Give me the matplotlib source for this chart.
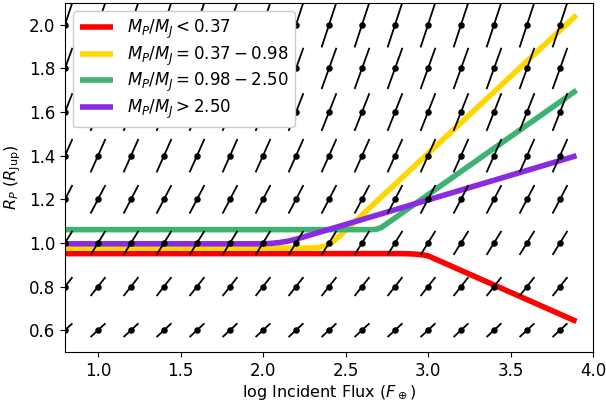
import numpy as np
import matplotlib
matplotlib.use("Agg")
import matplotlib.pyplot as plt
from matplotlib.collections import LineCollection

# ---- slope field grid ----
field_x = [0.8, 1.0, 1.2, 1.4, 1.6, 1.8, 2.0, 2.2, 2.4, 2.6, 2.8, 3.0, 3.2, 3.4, 3.6, 3.8]
field_y = [0.6, 0.8, 1.0, 1.2, 1.4, 1.6, 1.8, 2.0]
field_slope = [0.70, 0.96, 1.22, 1.45, 1.70, 1.92, 2.10, 2.30]
half_dx = 0.045

# ---- curves ----
red_x = [0.8, 2.85, 2.92, 2.97, 3.0, 3.9]
red_y = [0.951, 0.951, 0.949, 0.945, 0.941, 0.640]

yellow_x = [0.8, 2.28, 2.33, 2.37, 2.40, 2.44, 3.9]
yellow_y = [0.977, 0.977, 0.979, 0.984, 0.993, 1.015, 2.045]

green_x = [0.8, 2.66, 2.69, 2.72, 3.9]
green_y = [1.061, 1.061, 1.063, 1.072, 1.700]

purple_x = [0.8, 2.0, 2.05, 2.1, 2.15, 2.2, 3.9]
purple_y = [0.996, 0.996, 0.998, 1.002, 1.008, 1.017, 1.400]

labels = [r'$M_P/M_J < 0.37$', r'$M_P/M_J = 0.37 - 0.98$',
          r'$M_P/M_J = 0.98 - 2.50$', r'$M_P/M_J > 2.50$']
colors = ['#ff0000', '#ffd700', '#3cb371', '#8a2be2']

fig = plt.figure(figsize=(6.06, 4.01), dpi=100)
ax = fig.add_axes([65/606, 1-352/401, (593-65)/606, (352-3)/401])

for xs, ys, c, lab in zip([red_x, yellow_x, green_x, purple_x],
                          [red_y, yellow_y, green_y, purple_y], colors, labels):
    ax.plot(xs, ys, color=c, lw=4, label=lab, zorder=2, solid_capstyle='butt')

segs = []
px, py = [], []
for yv, m in zip(field_y, field_slope):
    for xv in field_x:
        segs.append([(xv - half_dx, yv - m*half_dx), (xv + half_dx, yv + m*half_dx)])
        px.append(xv)
        py.append(yv)
ax.add_collection(LineCollection(segs, colors='black', linewidths=1.3, zorder=3))
ax.scatter(px, py, s=22, color='black', zorder=4, linewidths=0)

ax.set_xlim(0.8, 4.0)
ax.set_ylim(0.5, 2.1)
ax.set_xticks([1.0, 1.5, 2.0, 2.5, 3.0, 3.5, 4.0])
ax.set_yticks([0.6, 0.8, 1.0, 1.2, 1.4, 1.6, 1.8, 2.0])
ax.tick_params(labelsize=12)
ax.set_xlabel(r'log Incident Flux ($F_\oplus$)', fontsize=11.5, labelpad=2.5)
ax.set_ylabel(r'$R_P\ (R_{\rm Jup})$', fontsize=11.5)
leg = ax.legend(loc='upper left', fontsize=12, labelspacing=0.2, framealpha=1)
leg.set_zorder(10)

fig.savefig('out.png', dpi=100)
